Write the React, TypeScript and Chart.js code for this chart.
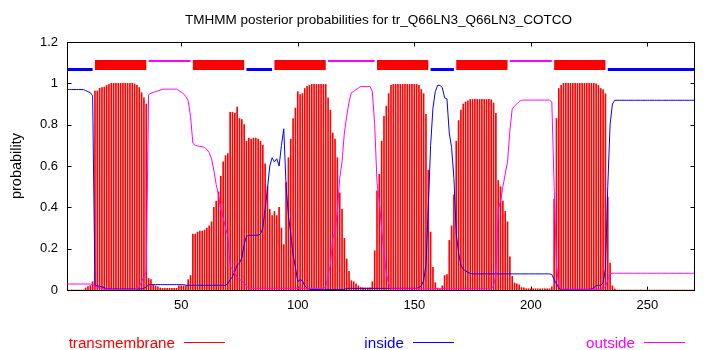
import React, { useEffect, useRef } from "react";
import { Chart, registerables } from "chart.js";

Chart.register(...registerables);

const TITLE = "TMHMM posterior probabilities for tr_Q66LN3_Q66LN3_COTCO";
const Y_LABEL = "probability";
const SEQ_START = 1;
const SEQ_END = 270;
const xTicks = [50, 100, 150, 200, 250];
const yTicks = [0, 0.2, 0.4, 0.6, 0.8, 1, 1.2];
const yTickLabels = ["0", "0.2", "0.4", "0.6", "0.8", "1", "1.2"];
const legendNames = ["transmembrane", "inside", "outside"];

// per-residue posterior probabilities (residues 1..270)
const transmembrane = [
  0, 0, 0, 0, 0, 0, 0, 0, 0.01, 0.016,
  0.022, 0.04, 0.963, 0.963, 0.976, 0.98, 0.982, 0.99, 0.995, 1,
  1, 1, 1, 1, 1, 1, 1, 1, 1, 0.997,
  0.99, 0.98, 0.955, 0.93, 0.9, 0.056, 0.05, 0.025, 0.02, 0.015,
  0.01, 0.008, 0.008, 0.008, 0.008, 0.008, 0.008, 0.008, 0.02, 0.02,
  0.02, 0.02, 0.05, 0.07, 0.27, 0.27, 0.28, 0.285, 0.285, 0.29,
  0.3, 0.31, 0.33, 0.4, 0.43, 0.475, 0.55, 0.62, 0.65, 0.66,
  0.86, 0.86, 0.855, 0.885, 0.83, 0.825, 0.8, 0.72, 0.735, 0.73,
  0.735, 0.735, 0.73, 0.72, 0.7, 0.61, 0.5, 0.39, 0.36, 0.38,
  0.36, 0.4, 0.3, 0.22, 0.52, 0.64, 0.73, 0.83, 0.88, 0.96,
  0.945, 0.95, 0.975, 0.985, 0.99, 0.995, 0.995, 0.995, 0.995, 0.995,
  0.995, 0.995, 0.93, 0.87, 0.76, 0.73, 0.64, 0.47, 0.39, 0.25,
  0.15, 0.09, 0.045, 0.04, 0.03, 0.02, 0.012, 0.01, 0.01, 0.01,
  0.01, 0.04, 0.19, 0.48, 0.56, 0.72, 0.84, 0.89, 0.95, 0.99,
  0.995, 0.995, 0.995, 0.995, 0.995, 0.995, 0.995, 0.995, 0.995, 0.995,
  0.995, 0.99, 0.97, 0.95, 0.85, 0.58, 0.28, 0.11, 0.035, 0.01,
  0.005, 0.02, 0.07, 0.075, 0.24, 0.31, 0.46, 0.72, 0.82, 0.87,
  0.9, 0.91, 0.915, 0.922, 0.922, 0.922, 0.922, 0.922, 0.922, 0.922,
  0.922, 0.922, 0.92, 0.905, 0.855, 0.53, 0.5, 0.43, 0.38, 0.33,
  0.16, 0.066, 0.034, 0.03, 0.025, 0.012, 0.01, 0.006, 0.006, 0.006,
  0.006, 0.006, 0.006, 0.006, 0.006, 0.006, 0.006, 0.006, 0.015, 0.44,
  0.83, 0.975, 0.99, 1, 1, 1, 1, 1, 1, 1,
  1, 1, 1, 1, 1, 1, 1, 0.997, 0.99, 0.975,
  0.97, 0.95, 0.45, 0.13, 0.02, 0.005, 0, 0, 0, 0,
  0, 0, 0, 0, 0, 0, 0, 0, 0, 0,
  0, 0, 0, 0, 0, 0, 0, 0, 0, 0,
  0, 0, 0, 0, 0, 0, 0, 0, 0, 0,
];

const inside = [
  0.97, 0.97, 0.97, 0.97, 0.97, 0.97, 0.97, 0.97, 0.965, 0.96,
  0.955, 0.94, 0.025, 0.02, 0.018, 0.015, 0.012, 0.005, 0.005, 0.005,
  0.005, 0.005, 0.005, 0.005, 0.005, 0.005, 0.005, 0.005, 0.005, 0.005,
  0.005, 0.005, 0.005, 0.008, 0.015, 0.025, 0.026, 0.026, 0.026, 0.026,
  0.026, 0.026, 0.026, 0.026, 0.026, 0.026, 0.026, 0.026, 0.026, 0.026,
  0.026, 0.023, 0.023, 0.023, 0.023, 0.023, 0.023, 0.023, 0.023, 0.023,
  0.023, 0.023, 0.023, 0.023, 0.023, 0.023, 0.023, 0.023, 0.023, 0.03,
  0.05, 0.065, 0.09, 0.12, 0.13, 0.155, 0.22, 0.26, 0.265, 0.265,
  0.265, 0.265, 0.265, 0.27, 0.3, 0.39, 0.49, 0.6, 0.64, 0.62,
  0.635, 0.6, 0.7, 0.78, 0.5, 0.36, 0.27, 0.17, 0.11, 0.04,
  0.05, 0.045, 0.02, 0.01, 0.003, 0.003, 0.003, 0.003, 0.003, 0.003,
  0.003, 0.003, 0.003, 0.003, 0.003, 0.003, 0.003, 0.003, 0.003, 0.003,
  0.008, 0.008, 0.008, 0.008, 0.008, 0.008, 0.008, 0.008, 0.008, 0.008,
  0.008, 0.008, 0.008, 0.008, 0.008, 0.008, 0.008, 0.008, 0.008, 0.008,
  0.008, 0.008, 0.008, 0.008, 0.008, 0.008, 0.008, 0.008, 0.008, 0.008,
  0.008, 0.012, 0.02, 0.045, 0.12, 0.4, 0.7, 0.88, 0.96, 0.99,
  0.99, 0.98, 0.93, 0.925, 0.76, 0.69, 0.54, 0.27, 0.18, 0.12,
  0.1, 0.093, 0.085, 0.08, 0.078, 0.078, 0.078, 0.078, 0.078, 0.078,
  0.078, 0.078, 0.078, 0.078, 0.078, 0.078, 0.078, 0.078, 0.078, 0.078,
  0.078, 0.078, 0.078, 0.078, 0.078, 0.078, 0.078, 0.078, 0.078, 0.078,
  0.078, 0.078, 0.078, 0.078, 0.078, 0.078, 0.078, 0.078, 0.075, 0.05,
  0.03, 0.01, 0.003, 0.003, 0.003, 0.003, 0.003, 0.003, 0.003, 0.003,
  0.003, 0.003, 0.003, 0.003, 0.003, 0.006, 0.01, 0.022, 0.023, 0.023,
  0.035, 0.1, 0.5, 0.8, 0.9, 0.918, 0.918, 0.918, 0.918, 0.918,
  0.918, 0.918, 0.918, 0.918, 0.918, 0.918, 0.918, 0.918, 0.918, 0.918,
  0.918, 0.918, 0.918, 0.918, 0.918, 0.918, 0.918, 0.918, 0.918, 0.918,
  0.918, 0.918, 0.918, 0.918, 0.918, 0.918, 0.918, 0.918, 0.918, 0.918,
];

const outside = [
  0.029, 0.029, 0.029, 0.029, 0.029, 0.029, 0.029, 0.029, 0.029, 0.029,
  0.029, 0.027, 0.018, 0.013, 0.01, 0.006, 0.004, 0.002, 0.002, 0.002,
  0.002, 0.002, 0.002, 0.002, 0.002, 0.002, 0.002, 0.002, 0.002, 0.002,
  0.008, 0.015, 0.04, 0.065, 0.09, 0.945, 0.952, 0.956, 0.96, 0.963,
  0.967, 0.971, 0.972, 0.972, 0.972, 0.972, 0.972, 0.972, 0.965, 0.957,
  0.95, 0.935, 0.915, 0.84, 0.71, 0.7, 0.697, 0.695, 0.693, 0.69,
  0.68, 0.665, 0.635, 0.58, 0.51, 0.46, 0.39, 0.35, 0.3, 0.26,
  0.115, 0.1, 0.08, 0.06, 0.05, 0.045, 0.035, 0.02, 0.008, 0.008,
  0.008, 0.008, 0.008, 0.008, 0.008, 0.008, 0.008, 0.008, 0.008, 0.008,
  0.008, 0.008, 0.008, 0.008, 0.008, 0.008, 0.008, 0.008, 0.008, 0.008,
  0.008, 0.008, 0.008, 0.008, 0.008, 0.008, 0.008, 0.008, 0.008, 0.008,
  0.008, 0.015, 0.07, 0.12, 0.25, 0.28, 0.38, 0.54, 0.62, 0.76,
  0.84, 0.91, 0.955, 0.96, 0.97, 0.977, 0.985, 0.985, 0.985, 0.985,
  0.985, 0.96, 0.8, 0.52, 0.43, 0.29, 0.18, 0.08, 0.03, 0.006,
  0.006, 0.006, 0.006, 0.006, 0.006, 0.006, 0.006, 0.006, 0.006, 0.006,
  0.006, 0.006, 0.006, 0.006, 0.006, 0.006, 0.006, 0.006, 0.006, 0.006,
  0.006, 0.006, 0.006, 0.006, 0.006, 0.006, 0.006, 0.006, 0.006, 0.006,
  0.006, 0.006, 0.006, 0.006, 0.006, 0.006, 0.006, 0.006, 0.006, 0.006,
  0.006, 0.006, 0.006, 0.02, 0.07, 0.39, 0.43, 0.5, 0.56, 0.62,
  0.77, 0.875, 0.89, 0.9, 0.912, 0.918, 0.919, 0.919, 0.919, 0.919,
  0.919, 0.919, 0.919, 0.919, 0.919, 0.919, 0.919, 0.919, 0.91, 0.5,
  0.12, 0.02, 0.004, 0.004, 0.004, 0.004, 0.004, 0.004, 0.004, 0.004,
  0.004, 0.004, 0.004, 0.004, 0.004, 0.004, 0.004, 0.004, 0.004, 0.004,
  0.004, 0.015, 0.05, 0.08, 0.081, 0.081, 0.081, 0.081, 0.081, 0.081,
  0.081, 0.081, 0.081, 0.081, 0.081, 0.081, 0.081, 0.081, 0.081, 0.081,
  0.081, 0.081, 0.081, 0.081, 0.081, 0.081, 0.081, 0.081, 0.081, 0.081,
  0.081, 0.081, 0.081, 0.081, 0.081, 0.081, 0.081, 0.081, 0.081, 0.081,
];

// predicted topology (residue ranges)
const insideSegments = [[1, 12], [78, 89], [157, 167], [233, 270]];
const tmSegments = [[13, 35], [55, 77], [90, 112], [134, 156], [168, 190], [210, 232]];
const outsideSegments = [[36, 54], [113, 133], [191, 209]];

const residues = transmembrane.map((_, i) => SEQ_START + i);

const RED = "#ff0000";
const BLUE = "#0000ff";
const MAGENTA = "#ff00ff";
const FONT = "'Liberation Sans', Arial, Helvetica, sans-serif";

function segmentPoints(segs: number[][], level: number) {
  const pts: { x: number; y: number | null }[] = [];
  segs.forEach(([a, b]) => {
    pts.push({ x: a, y: level });
    pts.push({ x: b, y: level });
    pts.push({ x: b + 0.5, y: null });
  });
  return pts;
}

const decorPlugin = {
  id: "decor",
  beforeDatasetsDraw(chart: any) {
    const { ctx, chartArea: a, scales } = chart;
    ctx.save();
    ctx.strokeStyle = "#000";
    ctx.lineWidth = 1;
    const L = Math.round(a.left) + 0.5;
    const R = Math.round(a.right) + 0.5;
    const T = Math.round(a.top) + 0.5;
    const B = Math.round(a.bottom) + 0.5;
    ctx.strokeRect(L, T, R - L, B - T);
    const tl = 4;
    ctx.beginPath();
    xTicks.forEach((v) => {
      const px = Math.round(scales.x.getPixelForValue(v)) + 0.5;
      ctx.moveTo(px, B);
      ctx.lineTo(px, B - tl);
      ctx.moveTo(px, T);
      ctx.lineTo(px, T + tl);
    });
    yTicks.forEach((v) => {
      const py = Math.round(scales.y.getPixelForValue(v)) + 0.5;
      ctx.moveTo(L, py);
      ctx.lineTo(L + tl, py);
      ctx.moveTo(R, py);
      ctx.lineTo(R - tl, py);
    });
    ctx.stroke();
    ctx.restore();
  },
  afterDraw(chart: any) {
    const { ctx, chartArea: a } = chart;
    ctx.save();
    ctx.fillStyle = "#000";
    ctx.font = `13.5px ${FONT}`;
    ctx.textAlign = "center";
    ctx.textBaseline = "alphabetic";
    ctx.fillText(TITLE, (a.left + a.right) / 2 - 2, 24);
    ctx.save();
    ctx.translate(21, (a.top + a.bottom) / 2);
    ctx.rotate(-Math.PI / 2);
    ctx.font = `14.5px ${FONT}`;
    ctx.fillText(Y_LABEL, 0, 0);
    ctx.restore();
    const items = [
      { name: legendNames[0], color: RED, x0: 184, x1: 225 },
      { name: legendNames[1], color: BLUE, x0: 413, x1: 454 },
      { name: legendNames[2], color: MAGENTA, x0: 644, x1: 685 },
    ];
    ctx.font = `15.2px ${FONT}`;
    ctx.textAlign = "right";
    items.forEach((it) => {
      ctx.fillStyle = it.color;
      ctx.fillText(it.name, it.x0 - 9, 348);
      ctx.strokeStyle = it.color;
      ctx.lineWidth = 1;
      ctx.beginPath();
      ctx.moveTo(it.x0, 342.5);
      ctx.lineTo(it.x1, 342.5);
      ctx.stroke();
    });
    ctx.restore();
  },
};

export default function App() {
  const ref = useRef<HTMLCanvasElement | null>(null);
  useEffect(() => {
    if (!ref.current) return;
    const chart = new Chart(ref.current, {
      type: "bar",
      data: {
        labels: residues,
        datasets: [
          {
            type: "bar",
            label: legendNames[0],
            data: transmembrane,
            backgroundColor: RED,
            borderWidth: 0,
            barThickness: 1,
            order: 5,
          } as any,
          {
            type: "line",
            label: legendNames[1],
            data: inside,
            borderColor: BLUE,
            borderWidth: 1,
            pointRadius: 0,
            tension: 0,
            fill: false,
            order: 4,
          },
          {
            type: "line",
            label: legendNames[2],
            data: outside,
            borderColor: MAGENTA,
            borderWidth: 1,
            pointRadius: 0,
            tension: 0,
            fill: false,
            order: 3,
          },
          {
            type: "line",
            label: "tm-topology",
            data: segmentPoints(tmSegments, 1.0885) as any,
            borderColor: RED,
            borderWidth: 10,
            borderCapStyle: "butt",
            pointRadius: 0,
            spanGaps: false,
            order: 2,
          },
          {
            type: "line",
            label: "in-topology",
            data: segmentPoints(insideSegments, 1.067) as any,
            borderColor: BLUE,
            borderWidth: 3,
            borderCapStyle: "butt",
            pointRadius: 0,
            spanGaps: false,
            order: 1,
          },
          {
            type: "line",
            label: "out-topology",
            data: segmentPoints(outsideSegments, 1.108) as any,
            borderColor: MAGENTA,
            borderWidth: 2,
            borderCapStyle: "butt",
            pointRadius: 0,
            spanGaps: false,
            order: 0,
          },
        ],
      },
      options: {
        animation: false,
        responsive: false,
        devicePixelRatio: 1,
        events: [],
        layout: { padding: { left: 0, right: 16, top: 42, bottom: 0 } },
        plugins: {
          legend: { display: false },
          title: { display: false },
          tooltip: { enabled: false },
        },
        scales: {
          x: {
            type: "linear",
            min: SEQ_START,
            max: SEQ_END,
            offset: false,
            grid: { display: false, drawTicks: false, offset: false },
            border: { display: false },
            ticks: {
              color: "#000",
              font: { family: FONT, size: 13 },
              padding: 8,
              maxRotation: 0,
              autoSkip: false,
              callback: (v: any) => String(v),
            },
            afterBuildTicks: (s: any) => {
              s.ticks = xTicks.map((v) => ({ value: v }));
            },
            afterFit: (s: any) => {
              s.height = 60;
            },
          },
          y: {
            min: 0,
            max: 1.2,
            grid: { display: false, drawTicks: false },
            border: { display: false },
            ticks: {
              color: "#000",
              font: { family: FONT, size: 13 },
              padding: 9,
              autoSkip: false,
              callback: (_v: any, i: number) => yTickLabels[i],
            },
            afterBuildTicks: (s: any) => {
              s.ticks = yTicks.map((v) => ({ value: v }));
            },
            afterFit: (s: any) => {
              s.width = 67;
            },
          },
        },
      },
      plugins: [decorPlugin],
    });
    return () => chart.destroy();
  }, []);
  return (
    <div style={{ position: "fixed", left: 0, top: 0, width: 710, height: 350, background: "#fff" }}>
      <canvas ref={ref} width={710} height={350} style={{ width: 710, height: 350, display: "block" }} />
    </div>
  );
}
